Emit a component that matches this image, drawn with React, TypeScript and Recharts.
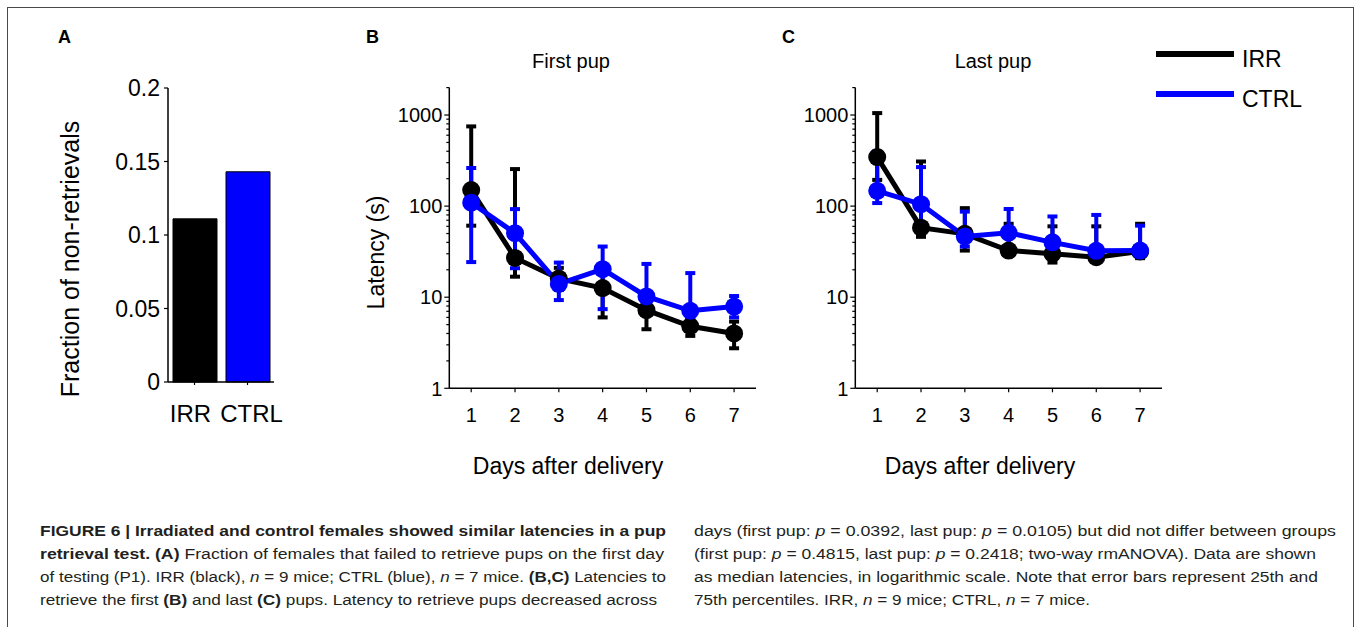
import React from "react";
import { BarChart, Bar, Cell, LineChart, Line, ErrorBar, XAxis, YAxis } from "recharts";

const FONT = "'Liberation Sans', Arial, Helvetica, sans-serif";
const CAPTION_FONT = "'Liberation Sans Narrow', 'Liberation Sans', Arial, sans-serif";
const IRR_COLOR = "#000000";
const CTRL_COLOR = "#0000ff";

// Panel A: fraction of non-retrievals on P1
const groups = ["IRR", "CTRL"];
const nonRetrievalFraction = [0.111, 0.143];
const groupColors = [IRR_COLOR, CTRL_COLOR];
const fractionTicks = [0, 0.05, 0.1, 0.15, 0.2];

// Panels B and C: median latency with 25th / 75th percentiles
const days = [1, 2, 3, 4, 5, 6, 7];

const firstIrrMedian = [150, 27, 16, 12.6, 7.2, 4.8, 4.0];
const firstIrrQ25 = [61, 16.8, 12, 6.0, 4.45, 3.76, 2.75];
const firstIrrQ75 = [750, 255, 21, 18.5, 8.7, 5.9, 5.4];
const firstCtrlMedian = [109, 50.5, 14, 20.3, 10.2, 7.1, 7.9];
const firstCtrlQ25 = [24.3, 20.8, 9.3, 7.4, 7.25, 6.1, 6.0];
const firstCtrlQ75 = [262, 92.7, 24, 36, 23.2, 18.4, 10.3];

const lastIrrMedian = [345, 58, 49.6, 32.5, 30, 27.5, 31.8];
const lastIrrQ25 = [194, 46, 32.5, 29, 24, 24.6, 26.8];
const lastIrrQ75 = [1050, 309, 95, 64, 60, 60, 64];
const lastCtrlMedian = [147, 105, 46.4, 51, 40, 32.3, 32.5];
const lastCtrlQ25 = [108, 60.8, 36, 36, 31, 25.7, 27.7];
const lastCtrlQ75 = [398, 268, 87, 93, 77, 80, 61];

const latencyTicks = [
  1, 2, 3, 4, 5, 6, 7, 8, 9,
  10, 20, 30, 40, 50, 60, 70, 80, 90,
  100, 200, 300, 400, 500, 600, 700, 800, 900,
  1000, 2000,
];
const latencyLabels = [1, 10, 100, 1000];

type Seg = { t: string; b?: boolean; i?: boolean };

const captionLeft: Seg[][] = [
  [{ t: "FIGURE 6 | Irradiated and control females showed similar latencies in a pup", b: true }],
  [
    { t: "retrieval test. (A)", b: true },
    { t: " Fraction of females that failed to retrieve pups on the first day" },
  ],
  [
    { t: "of testing (P1). IRR (black), " },
    { t: "n", i: true },
    { t: " = 9 mice; CTRL (blue), " },
    { t: "n", i: true },
    { t: " = 7 mice. " },
    { t: "(B,C)", b: true },
    { t: " Latencies to" },
  ],
  [
    { t: "retrieve the first " },
    { t: "(B)", b: true },
    { t: " and last " },
    { t: "(C)", b: true },
    { t: " pups. Latency to retrieve pups decreased across" },
  ],
];
const captionRight: Seg[][] = [
  [
    { t: "days (first pup: " },
    { t: "p", i: true },
    { t: " = 0.0392, last pup: " },
    { t: "p", i: true },
    { t: " = 0.0105) but did not differ between groups" },
  ],
  [
    { t: "(first pup: " },
    { t: "p", i: true },
    { t: " = 0.4815, last pup: " },
    { t: "p", i: true },
    { t: " = 0.2418; two-way rmANOVA). Data are shown" },
  ],
  [{ t: "as median latencies, in logarithmic scale. Note that error bars represent 25th and" }],
  [
    { t: "75th percentiles. IRR, " },
    { t: "n", i: true },
    { t: " = 9 mice; CTRL, " },
    { t: "n", i: true },
    { t: " = 7 mice." },
  ],
];
const captionLeftWidths = [626, 624, 626, 617];
const captionRightWidths = [642, 622, 624, 396];
const captionBaselines = [536, 559, 582, 605];

function buildRows(
  irrMed: number[], irrLo: number[], irrHi: number[],
  ctrlMed: number[], ctrlLo: number[], ctrlHi: number[]
) {
  return days.map((d, i) => ({
    day: d,
    irr: irrMed[i],
    irrErr: [irrMed[i] - irrLo[i], irrHi[i] - irrMed[i]],
    ctrl: ctrlMed[i],
    ctrlErr: [ctrlMed[i] - ctrlLo[i], ctrlHi[i] - ctrlMed[i]],
  }));
}

const firstPupRows = buildRows(firstIrrMedian, firstIrrQ25, firstIrrQ75, firstCtrlMedian, firstCtrlQ25, firstCtrlQ75);
const lastPupRows = buildRows(lastIrrMedian, lastIrrQ25, lastIrrQ75, lastCtrlMedian, lastCtrlQ25, lastCtrlQ75);
const barRows = groups.map((g, i) => ({ group: g, fraction: nonRetrievalFraction[i] }));

const axisStyle = { stroke: "#000", strokeWidth: 1.5 };
const tickLineStyle = { stroke: "#000", strokeWidth: 1.2 };

function LogTick(props: any) {
  const { x, y, payload } = props;
  const major = latencyLabels.includes(payload.value);
  return (
    <g>
      <line x1={x} x2={x - (major ? 5 : 3)} y1={y} y2={y} stroke="#000" strokeWidth={1.2} />
      {major && (
        <text x={x - 7} y={y} dy="0.36em" textAnchor="end" fontSize={20} fill="#000">
          {payload.value}
        </text>
      )}
    </g>
  );
}

// category labels in A sit a little apart from the tick marks
function GroupTick(props: any) {
  const { x, y, payload, index } = props;
  return (
    <text x={x} y={y} dx={index === 0 ? -4 : 4} dy="0.71em" textAnchor="middle" fontSize={24} fill="#000">
      {payload.value}
    </text>
  );
}

function LatencyPanel({ data, left }: { data: any[]; left: number }) {
  return (
    <div style={{ position: "absolute", left, top: 0 }}>
      <LineChart width={420} height={430} data={data} margin={{ top: 87.6, right: 24, bottom: 0, left: 0 }}>
        <XAxis
          dataKey="day"
          type="number"
          domain={[0.5, 7.5]}
          allowDataOverflow
          ticks={days}
          interval={0}
          height={41.7}
          tickSize={4}
          tickMargin={15}
          axisLine={axisStyle}
          tickLine={tickLineStyle}
          tick={{ fontSize: 20, fill: "#000" }}
        />
        <YAxis
          type="number"
          scale="log"
          domain={[1, 2000]}
          allowDataOverflow
          ticks={latencyTicks}
          interval={0}
          width={89.3}
          tickSize={0}
          tickMargin={0}
          tickLine={false}
          axisLine={axisStyle}
          tick={<LogTick />}
        />
        <Line
          type="linear"
          dataKey="irr"
          stroke={IRR_COLOR}
          strokeWidth={5}
          dot={{ r: 9, fill: IRR_COLOR, stroke: IRR_COLOR, strokeWidth: 0 }}
          activeDot={false}
          isAnimationActive={false}
        >
          <ErrorBar dataKey="irrErr" direction="y" width={5} strokeWidth={4} stroke={IRR_COLOR} isAnimationActive={false} />
        </Line>
        <Line
          type="linear"
          dataKey="ctrl"
          stroke={CTRL_COLOR}
          strokeWidth={5}
          dot={{ r: 9, fill: CTRL_COLOR, stroke: CTRL_COLOR, strokeWidth: 0 }}
          activeDot={false}
          isAnimationActive={false}
        >
          <ErrorBar dataKey="ctrlErr" direction="y" width={5} strokeWidth={4} stroke={CTRL_COLOR} isAnimationActive={false} />
        </Line>
      </LineChart>
    </div>
  );
}

function CaptionLine({ segs, x, y, width }: { segs: Seg[]; x: number; y: number; width: number }) {
  return (
    <text x={x} y={y} fontSize={15.5} fill="#231f20" textLength={width} lengthAdjust="spacingAndGlyphs" fontFamily={CAPTION_FONT}>
      {segs.map((s, i) => (
        <tspan key={i} fontWeight={s.b ? "bold" : "normal"} fontStyle={s.i ? "italic" : "normal"}>
          {s.t}
        </tspan>
      ))}
    </text>
  );
}

export default function App() {
  return (
    <div
      style={{
        position: "absolute",
        left: 0,
        top: 0,
        width: 1356,
        height: 627,
        overflow: "hidden",
        background: "#fff",
        fontFamily: FONT,
      }}
    >
      <div
        style={{
          position: "absolute",
          left: 7,
          top: 7,
          width: 1345,
          height: 700,
          border: "1.5px solid #4a4a4a",
        }}
      />

      {/* A: bars */}
      <div style={{ position: "absolute", left: 0, top: 0 }}>
        <BarChart width={300} height={450} data={barRows} margin={{ top: 88, right: 26, bottom: 0, left: 0 }} barCategoryGap={4}>
          <XAxis
            dataKey="group"
            height={68}
            interval={0}
            tickSize={3}
            tickMargin={20}
            axisLine={axisStyle}
            tickLine={tickLineStyle}
            tick={<GroupTick />}
          />
          <YAxis
            type="number"
            domain={[0, 0.2]}
            ticks={fractionTicks}
            interval={0}
            width={168}
            tickSize={4}
            tickMargin={4}
            axisLine={axisStyle}
            tickLine={tickLineStyle}
            tick={{ fontSize: 23, fill: "#000" }}
          />
          <Bar dataKey="fraction" barSize={44} stroke="#000" strokeWidth={1} isAnimationActive={false}>
            {barRows.map((r, i) => (
              <Cell key={r.group} fill={groupColors[i]} />
            ))}
          </Bar>
        </BarChart>
      </div>

      {/* B, C: latencies */}
      <LatencyPanel data={firstPupRows} left={360} />
      <LatencyPanel data={lastPupRows} left={766} />

      {/* titles, legend, caption */}
      <svg width={1356} height={627} style={{ position: "absolute", left: 0, top: 0, pointerEvents: "none" }}>
        <g fontWeight="bold" fontSize={18} fill="#000">
          <text x={58} y={43}>A</text>
          <text x={366} y={43}>B</text>
          <text x={782} y={43}>C</text>
        </g>
        <g fontSize={20} fill="#000" textAnchor="middle">
          <text x={571} y={68}>First pup</text>
          <text x={993} y={68}>Last pup</text>
        </g>
        <g fontSize={23} fill="#000" textAnchor="middle">
          <text x={568} y={474}>Days after delivery</text>
          <text x={980} y={474}>Days after delivery</text>
          <text transform="translate(384 252.5) rotate(-90)">Latency (s)</text>
          <text fontSize={25} transform="translate(79 259) rotate(-90)">Fraction of non-retrievals</text>
        </g>

        <line x1={1156} x2={1234} y1={54} y2={54} stroke={IRR_COLOR} strokeWidth={6} />
        <line x1={1156} x2={1234} y1={94} y2={94} stroke={CTRL_COLOR} strokeWidth={6} />
        <g fontSize={23} fill="#000">
          <text x={1242} y={67}>{groups[0]}</text>
          <text x={1242} y={107}>{groups[1]}</text>
        </g>

        {captionLeft.map((segs, i) => (
          <CaptionLine key={"l" + i} segs={segs} x={40} y={captionBaselines[i]} width={captionLeftWidths[i]} />
        ))}
        {captionRight.map((segs, i) => (
          <CaptionLine key={"r" + i} segs={segs} x={694} y={captionBaselines[i]} width={captionRightWidths[i]} />
        ))}
      </svg>
    </div>
  );
}
